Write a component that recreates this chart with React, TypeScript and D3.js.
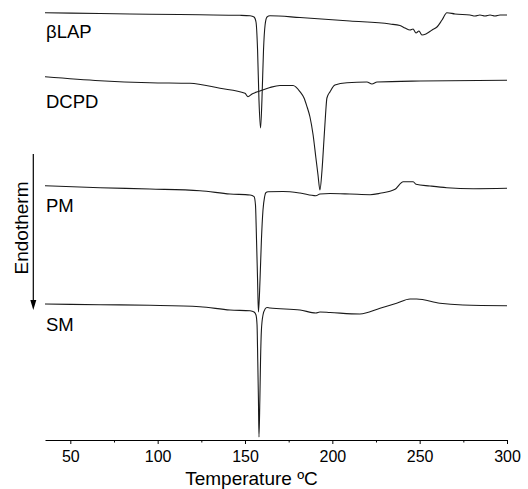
import React, { useEffect, useRef } from 'react';
import * as d3 from 'd3';

// DSC thermograms, heat flow in arbitrary units (curves stacked with offsets)
const bLAP: [number, number][] = [
  [35.5, 42.73], [67, 42.65], [95.6, 42.58], [124.2, 42.52], [147.1, 42.47], [152.9, 42.43],
  [155.2, 42.3], [156.3, 41.8], [157.2, 39.0], [158.0, 34.0], [158.9, 31.2], [159.7, 34.0],
  [160.6, 39.0], [161.5, 41.5], [162.6, 42.3], [164.3, 42.42], [181.5, 42.25], [210.1, 41.9],
  [233, 41.6], [238.7, 41.45], [241.6, 41.2], [244.5, 41.0], [246.2, 41.1], [247.9, 40.7],
  [249.6, 40.9], [251.3, 40.5], [253.6, 40.6], [257.1, 41.0], [259.9, 41.3], [262.8, 42.0],
  [265.6, 42.73], [270.2, 42.6], [278.8, 42.5], [281.7, 42.4], [284.5, 42.5], [287.4, 42.4],
  [290.3, 42.5], [293.1, 42.4], [296, 42.5], [300, 42.5],
];

const DCPD: [number, number][] = [
  [35.5, 36.33], [67, 35.93], [95.6, 35.73], [118.5, 35.67], [135.7, 35.17], [150.0, 34.67],
  [151.7, 34.33], [154.0, 34.6], [158.6, 34.9], [164.3, 35.25], [170.0, 35.45], [177.5, 35.45],
  [181.5, 34.83], [183.8, 34.2], [185.5, 33.33], [187.2, 32.3], [189.0, 30.5], [190.6, 28.2],
  [191.8, 26.5], [192.9, 25.0], [194.1, 27.0], [195.2, 30.0], [196.1, 32.5], [196.9, 34.2],
  [198.7, 34.83], [201.5, 35.5], [208.4, 35.73], [219.8, 35.8], [222.7, 35.6], [225.6, 35.8],
  [250.2, 35.9], [300, 35.97],
];

const PM: [number, number][] = [
  [35.5, 25.43], [67, 25.23], [95.6, 25.1], [124.2, 24.93], [141.4, 24.6], [152.9, 24.5],
  [155.2, 24.33], [156.0, 23.5], [156.6, 20.0], [157.2, 16.0], [157.7, 12.8], [158.6, 16.0],
  [159.4, 20.0], [160.3, 23.0], [161.2, 24.3], [162.0, 24.75], [163.2, 24.83], [171.8, 24.85],
  [181.5, 24.7], [190.6, 24.43], [192.9, 24.6], [198.7, 24.65], [210.1, 24.6], [221.6, 24.53],
  [227.3, 24.67], [235.9, 25.07], [240.6, 25.83], [246.3, 25.83], [247.9, 25.57], [255.9, 25.4],
  [265.5, 25.23], [280.7, 25.13], [300, 25.17],
];

const SM: [number, number][] = [
  [35.5, 13.6], [67, 13.53], [95.6, 13.47], [124.2, 13.33], [141.4, 13.0], [152.9, 12.93],
  [155.2, 12.8], [156.3, 12.5], [156.9, 11.5], [157.3, 8.0], [157.7, 4.0], [158.0, 0.3],
  [158.5, 4.0], [158.9, 8.0], [159.4, 11.0], [160.3, 12.5], [161.5, 13.1], [162.6, 13.25],
  [164.3, 13.2], [181.5, 13.0], [190.6, 12.7], [192.9, 12.8], [198.7, 12.75], [215.8, 12.6],
  [227.3, 13.17], [236.8, 13.67], [244.5, 14.1], [248.3, 14.1], [261.6, 13.67], [274.8, 13.5],
  [300, 13.43],
];

const seriesNames = ['\u03b2LAP', 'DCPD', 'PM', 'SM'];
const seriesData = [bLAP, DCPD, PM, SM];
const majorTicks = [50, 100, 150, 200, 250, 300];
const minorTicks = [75, 125, 175, 225, 275];

const W = 528, H = 489;
const font = '"Liberation Sans", Arial, sans-serif';

export default function App() {
  const axisRef = useRef<SVGGElement>(null);
  const minorRef = useRef<SVGGElement>(null);

  const x = d3.scaleLinear().domain([35.5, 300]).range([45, 507]);
  const y = d3.scaleLinear().domain([0, 44]).range([440, 0]);
  const line = d3.line<[number, number]>()
    .x(d => x(d[0]))
    .y(d => y(d[1]))
    .curve(d3.curveMonotoneX);

  useEffect(() => {
    const ax = d3.axisBottom(x).tickValues(majorTicks).tickSize(4).tickSizeOuter(0).tickPadding(6.5);
    const g = d3.select(axisRef.current);
    g.selectAll('*').remove();
    g.call(ax as any);
    g.select('.domain').attr('stroke', '#000').attr('stroke-width', 1.2);
    g.selectAll('.tick line').attr('stroke', '#000');
    g.selectAll('.tick text').attr('font-size', 16).attr('font-family', font).attr('fill', '#000');

    const mn = d3.axisBottom(x).tickValues(minorTicks).tickSize(2.5).tickSizeOuter(0).tickFormat(() => '');
    const m = d3.select(minorRef.current);
    m.selectAll('*').remove();
    m.call(mn as any);
    m.select('.domain').remove();
    m.selectAll('.tick line').attr('stroke', '#000');
  }, []);

  const labelY = [38, 107.5, 212, 331];

  return (
    <svg width={W} height={H} style={{ position: 'absolute', left: 0, top: 0, background: '#fff' }}>
      {seriesData.map((d, i) => (
        <path key={i} d={line(d) ?? ''} fill="none" stroke="#1a1a1a" strokeWidth={1.1} />
      ))}
      {seriesNames.map((n, i) => (
        <text key={n} x={46} y={labelY[i]} fontSize={18.5} fontFamily={font} fill="#000">{n}</text>
      ))}
      <g ref={axisRef} transform={`translate(0,${y(0)})`} />
      <g ref={minorRef} transform={`translate(0,${y(0)})`} />
      <text x={251.5} y={485} fontSize={19} fontFamily={font} textAnchor="middle" fill="#000">
        Temperature ºC
      </text>
      <text transform="translate(28,228) rotate(-90)" fontSize={19} fontFamily={font} textAnchor="middle" fill="#000">
        Endotherm
      </text>
      <line x1={33.3} x2={33.3} y1={154} y2={302} stroke="#000" strokeWidth={1.2} />
      <path d="M30.3,300 L36.3,300 L33.3,310 Z" fill="#000" />
    </svg>
  );
}
